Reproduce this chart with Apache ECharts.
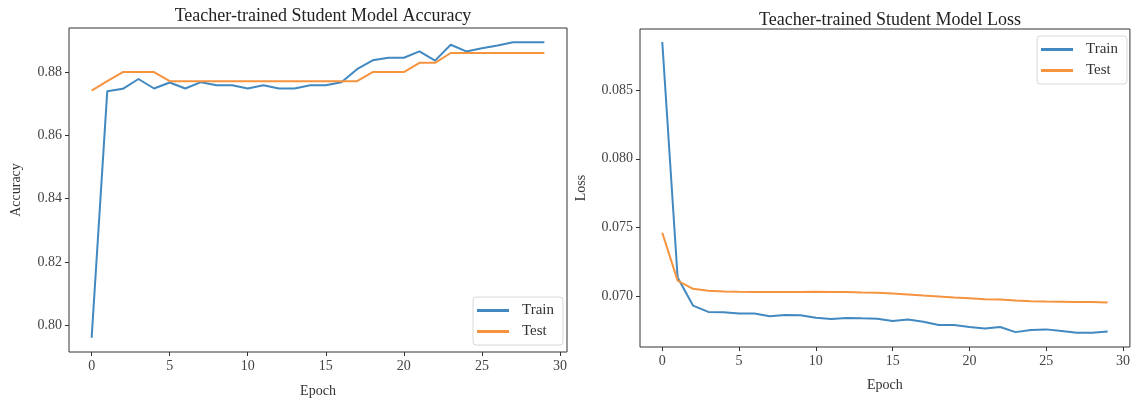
<!DOCTYPE html>
<html>
<head>
<meta charset="utf-8">
<script src="https://cdn.jsdelivr.net/npm/echarts@6/dist/echarts.min.js"></script>
<style>
html,body{margin:0;padding:0;background:#fff;}
#chart{width:1133px;height:404px;}
</style>
</head>
<body>
<div id="chart"></div>
<script>
const epochs = [0,1,2,3,4,5,6,7,8,9,10,11,12,13,14,15,16,17,18,19,20,21,22,23,24,25,26,27,28,29];
const accTrain = [0.7961,0.8739,0.8747,0.8778,0.8748,0.8767,0.8748,0.8768,0.8758,0.8758,0.8748,0.8758,0.8748,0.8748,0.8758,0.8758,0.8768,0.8809,0.8837,0.8845,0.8845,0.8865,0.8836,0.8886,0.8865,0.8875,0.8884,0.8894,0.8894,0.8894];
const accTest = [0.8741,0.8771,0.8800,0.8800,0.8800,0.8771,0.8771,0.8771,0.8771,0.8771,0.8771,0.8771,0.8771,0.8771,0.8771,0.8771,0.8771,0.8771,0.8800,0.8800,0.8800,0.8829,0.8829,0.8860,0.8860,0.8860,0.8860,0.8860,0.8860,0.8860];
const lossTrain = [0.08849,0.07138,0.06934,0.06888,0.06885,0.06876,0.06876,0.06856,0.06866,0.06863,0.06846,0.06837,0.06844,0.06841,0.06839,0.06822,0.06832,0.06817,0.06793,0.06793,0.06778,0.06768,0.06778,0.06741,0.06756,0.06761,0.06749,0.06737,0.06737,0.06746];
const lossTest = [0.07463,0.07115,0.07056,0.07041,0.07037,0.07034,0.07032,0.07032,0.07032,0.07032,0.07034,0.07032,0.07032,0.07029,0.07027,0.07022,0.07015,0.07007,0.07000,0.06993,0.06988,0.06980,0.06978,0.06971,0.06966,0.06963,0.06961,0.06959,0.06959,0.06956];
const xTicks = [0,5,10,15,20,25,30];
const accTicks = [0.80,0.82,0.84,0.86,0.88];
const lossTicks = [0.070,0.075,0.080,0.085];
const seriesNames = ['Train','Test'];
const titles = ['Teacher-trained Student Model Accuracy','Teacher-trained Student Model Loss'];

const FONT = "'Liberation Serif','DejaVu Serif',serif";
const BLUE = '#4189c0';
const ORANGE = '#f5933f';
const pairs = arr => epochs.map((e,i)=>[e, arr[i]]);

function xAx(gi, gap){
  return {
    type:'value', gridIndex:gi, min:-1.45, max:30.45,
    name:'Epoch', nameLocation:'middle', nameGap:gap,
    nameTextStyle:{fontFamily:FONT, fontSize:14, color:'#333'},
    axisLine:{show:false, onZero:false},
    axisTick:{show:true, length:4, customValues:xTicks, lineStyle:{color:'#333'}},
    axisLabel:{customValues:xTicks, margin:7, fontFamily:FONT, fontSize:14, color:'#444'},
    splitLine:{show:false}
  };
}
function yAx(gi, min, max, ticks, dec, name, gap){
  return {
    type:'value', gridIndex:gi, min:min, max:max,
    name:name, nameLocation:'middle', nameGap:gap,
    nameTextStyle:{fontFamily:FONT, fontSize:14, color:'#333'},
    axisLine:{show:false, onZero:false},
    axisTick:{show:true, length:4, customValues:ticks, lineStyle:{color:'#333'}},
    axisLabel:{customValues:ticks, margin:7, fontFamily:FONT, fontSize:14, color:'#444',
      formatter:v=>Number(v).toFixed(dec)},
    splitLine:{show:false}
  };
}
function legend(left, top){
  return {
    orient:'vertical', left:left, top:top, data:seriesNames,
    icon:'rect', itemWidth:32, itemHeight:3, itemGap:6,
    padding:[6,9,6,4], backgroundColor:'#fff', borderColor:'#d8d8d8', borderWidth:1, borderRadius:3,
    textStyle:{fontFamily:FONT, fontSize:15, color:'#333', padding:[0,0,0,8]},
    selectedMode:false
  };
}
function line(name, gi, data, color){
  return {
    name:name, type:'line', xAxisIndex:gi, yAxisIndex:gi, data:data,
    symbol:'none', showSymbol:false, lineStyle:{width:2, color:color}, itemStyle:{color:color},
    emphasis:{disabled:true}
  };
}

const chart = echarts.init(document.getElementById('chart'));
chart.setOption({
  animation:false,
  backgroundColor:'#fff',
  title:[
    {text:titles[0], left:318, top:2, textAlign:'center', textStyle:{fontFamily:FONT, fontSize:18, fontWeight:'normal', color:'#222'}},
    {text:titles[1], left:885, top:6, textAlign:'center', textStyle:{fontFamily:FONT, fontSize:18, fontWeight:'normal', color:'#222'}}
  ],
  grid:[
    {left:69, top:28, width:498, height:324, show:true, borderColor:'#333', borderWidth:1, backgroundColor:'transparent'},
    {left:640, top:29, width:490, height:318, show:true, borderColor:'#333', borderWidth:1, backgroundColor:'transparent'}
  ],
  xAxis:[xAx(0,32), xAx(1,31)],
  yAxis:[
    yAx(0, 0.7916, 0.8939, accTicks, 2, 'Accuracy', 46),
    yAx(1, 0.06633, 0.08943, lossTicks, 3, 'Loss', 52)
  ],
  legend:[legend(473,297), legend(1037,36)],
  series:[
    line('Train',0,pairs(accTrain),BLUE),
    line('Test',0,pairs(accTest),ORANGE),
    line('Train',1,pairs(lossTrain),BLUE),
    line('Test',1,pairs(lossTest),ORANGE)
  ]
});
</script>
</body>
</html>
